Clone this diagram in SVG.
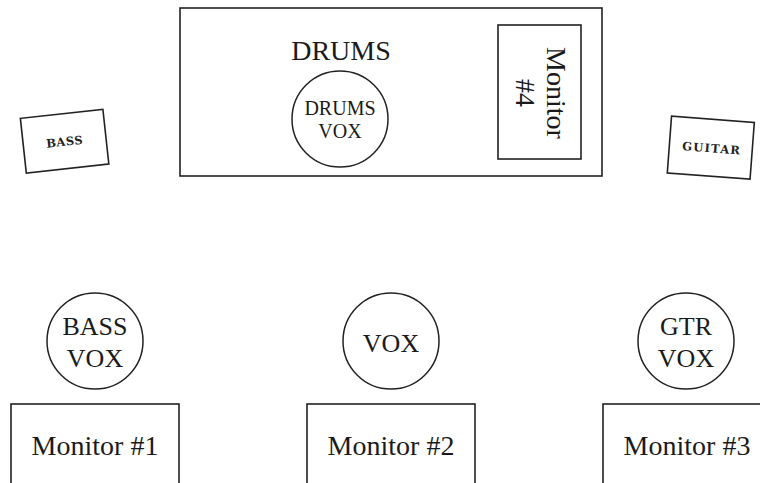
<svg xmlns="http://www.w3.org/2000/svg" width="760" height="483" viewBox="0 0 760 483">
<style>
.box{fill:#fff;stroke:#222;stroke-width:1.6}
.mic{fill:#fff;stroke:#222;stroke-width:1.5}
.t{font-family:"Liberation Serif","Times New Roman",serif;fill:#1a1a1a;text-anchor:middle}
.big{font-size:28px}
.mid{font-size:26px}
.sm{font-size:20px}
.amp{font-family:"DejaVu Serif",serif;font-weight:bold;font-size:11.5px;fill:#222;text-anchor:middle}
</style>
<rect width="760" height="483" fill="#fff"/>
<g id="drum-riser">
<rect class="box" x="180" y="8" width="422" height="168"/>
<text class="t big" x="341" y="60">DRUMS</text>
</g>
<g id="drums-vox">
<circle class="mic" cx="340" cy="119" r="48"/>
<text class="t sm" x="340" y="115">DRUMS</text>
<text class="t sm" x="340" y="138">VOX</text>
</g>
<g id="monitor-4">
<rect class="box" x="498" y="25" width="83" height="134"/>
<g transform="translate(539.5,93) rotate(90)">
<text class="t big" x="0" y="-7">Monitor</text>
<text class="t big" x="0" y="24">#4</text>
</g>
</g>
<g id="bass-amp" transform="translate(64.6,141.2) rotate(-6.2)">
<rect class="box" x="-41.5" y="-27.5" width="83" height="55"/>
<text class="amp" x="0" y="4.5" letter-spacing="0.5">BASS</text>
</g>
<g id="guitar-amp" transform="translate(710.8,147.7) rotate(4.3)">
<rect class="box" x="-41.5" y="-28.5" width="83" height="57"/>
<text class="amp" x="1" y="4.5" letter-spacing="1.2">GUITAR</text>
</g>
<g id="bass-vox">
<circle class="mic" cx="95" cy="341" r="48"/>
<text class="t mid" x="95" y="335">BASS</text>
<text class="t mid" x="95" y="367">VOX</text>
</g>
<g id="vox">
<circle class="mic" cx="391" cy="341" r="48"/>
<text class="t mid" x="391" y="352">VOX</text>
</g>
<g id="gtr-vox">
<circle class="mic" cx="686" cy="341" r="48"/>
<text class="t mid" x="686" y="335">GTR</text>
<text class="t mid" x="686" y="367">VOX</text>
</g>
<g id="monitor-1">
<rect class="box" x="11" y="404" width="168" height="100"/>
<text class="t big" x="95" y="455">Monitor #1</text>
</g>
<g id="monitor-2">
<rect class="box" x="307" y="404" width="168" height="100"/>
<text class="t big" x="391" y="455">Monitor #2</text>
</g>
<g id="monitor-3">
<rect class="box" x="603" y="404" width="168" height="100"/>
<text class="t big" x="687" y="455">Monitor #3</text>
</g>
<g id="connectors"></g>
</svg>
